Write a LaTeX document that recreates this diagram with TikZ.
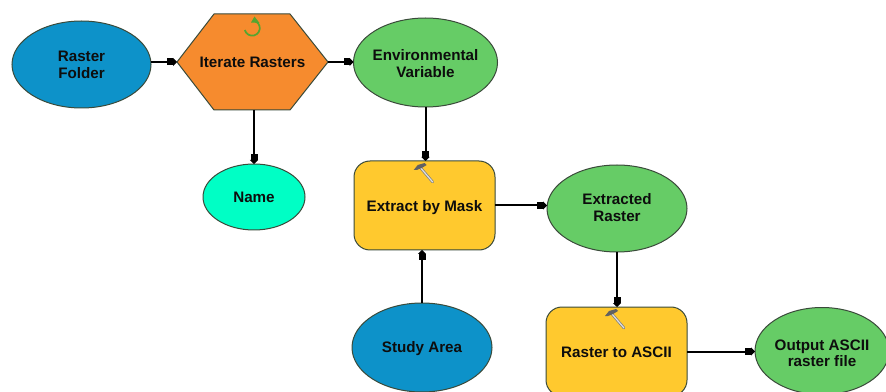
\documentclass[tikz,border=0pt]{standalone}
\usepackage{fontspec}
\setmainfont{Liberation Sans}
\usetikzlibrary{arrows.meta,shapes.geometric}
\definecolor{cblue}{HTML}{0D92C9}
\definecolor{corange}{HTML}{F68B2E}
\definecolor{cgreen}{HTML}{66CC66}
\definecolor{ccyan}{HTML}{00FFC5}
\definecolor{cyellow}{HTML}{FFC92E}
\definecolor{cedge}{HTML}{3A4A3A}
\definecolor{cloop}{HTML}{55A530}
\tikzset{
  x=0.75pt,y=-0.75pt,
  every node/.style={font=\fontsize{11.4}{12.6}\selectfont\bfseries,text=black!95,align=center,inner sep=0pt,outer sep=0pt},
  shapeline/.style={draw=cedge,line width=0.75pt},
  oval/.style={shape=ellipse,shapeline,inner xsep=-20pt,inner ysep=-8pt,minimum width=#1*0.75pt},
  toolbox/.style={shape=rectangle,shapeline,fill=cyellow,rounded corners=12pt,minimum width=105.75pt,minimum height=66.75pt},
  link/.style={draw=black,line width=1.5pt,-{Square[length=4.5pt,width=5.25pt,sep=0pt]Triangle[length=3pt,width=6pt]}},
  pics/hammer/.style={code={
    \draw[line width=2pt,draw=black!50,line cap=round] (0,0) -- (12,14);
    \draw[line width=0.9pt,draw=black!12,line cap=round] (0,0) -- (12,14);
    \fill[black!62] (-7,2) -- (-3,-3) -- (4,-5) -- (6,-3) -- (1,0) -- (-4,2) -- cycle;
  }}
}
\begin{document}
\begin{tikzpicture}
\path[use as bounding box] (0,0) rectangle (886,392);
\clip (0,0) rectangle (886,392);
\fill[white] (0,0) rectangle (886,392);
\node[oval=139,fill=cblue,minimum height=65.25pt] (folder) at (81.5,64.5) {Raster\\Folder};
\node[minimum width=113.25pt,minimum height=72pt] (iter) at (252.5,62) {};
\draw[shapeline,fill=corange] (iter.west) -- (214,14) -- (290,14) -- (iter.east) -- (290,110) -- (214,110) -- cycle;
\node at (iter.center) {Iterate Rasters};
\draw[cloop,line width=1.3pt] (256,21.5) arc[start angle=-60,delta angle=225,radius=7.6];
\fill[cloop] (254.5,16.5) -- (259.5,23) -- (251,22.5) -- cycle;
\node[oval=144,fill=cgreen,minimum height=66.75pt,text height=22.6pt] (env) at (425.5,62.5) {Environmental\\Variable};
\node[oval=102,fill=ccyan,minimum height=49.5pt] (name) at (254,197) {Name};
\node[toolbox,text height=11.2pt] (extract) at (424.5,205.5) {Extract by Mask};
\node[oval=140,fill=cgreen,minimum height=65.25pt,text depth=1.5pt] (extracted) at (617,208.5) {Extracted\\Raster};
\node[oval=140,fill=cblue,minimum height=66.75pt,text height=9.7pt] (study) at (422,347.5) {Study Area};
\node[toolbox,text height=9.7pt] (toascii) at (616.5,351.5) {Raster to ASCII};
\node[oval=134,fill=cgreen,minimum height=65.25pt,text height=24pt] (output) at (822,351) {Output ASCII\\raster file};
\pic at (420.7,168) {hammer};
\pic at (612,314) {hammer};
\draw[link] (iter.west -| folder.east) -- (iter.west);
\draw[link] (iter.east) -- (iter.east -| env.west);
\draw[link] (name.north |- iter.south) -- (name.north);
\draw[link] (env.south) -- (env.south |- extract.north);
\draw[link] (extract.east) -- (extract.east -| extracted.west);
\draw[link] (study.north) -- (study.north |- extract.south);
\draw[link] (extracted.south) -- (extracted.south |- toascii.north);
\draw[link] (toascii.east) -- (toascii.east -| output.west);
\end{tikzpicture}
\end{document}
